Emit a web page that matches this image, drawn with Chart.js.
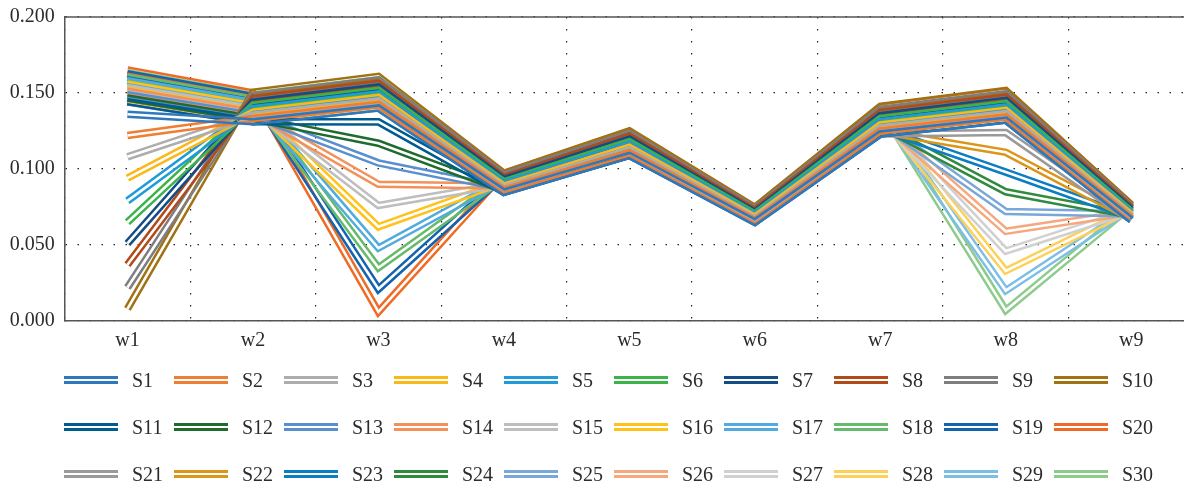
<!DOCTYPE html>
<html>
<head>
<meta charset="utf-8">
<script src="https://cdn.jsdelivr.net/npm/chart.js@4.4.1/dist/chart.umd.min.js"></script>
<style>
  html, body { margin: 0; padding: 0; background: #fff; width: 1184px; height: 486px; overflow: hidden; }
  #wrap { position: absolute; left: 0; top: 0; width: 1200px; height: 361px; }
  #legend { position: absolute; left: 0; top: 0; width: 1184px; height: 486px; }
  .item { position: absolute; display: flex; align-items: center; height: 20px; line-height: 20px;
          font: 20px "Liberation Serif", "DejaVu Serif", serif; color: #2b2b2b; white-space: nowrap; }
  .swatch { width: 54px; height: 2px; border-top: 3px solid; border-bottom: 3px solid; margin-right: 14px; }
</style>
</head>
<body>
<div id="wrap"><canvas id="chart" width="1200" height="361"></canvas></div>
<div id="legend"></div>
<script>
const categories = ["w1", "w2", "w3", "w4", "w5", "w6", "w7", "w8", "w9"];
const yTicks = [0, 0.05, 0.1, 0.15, 0.2];

// S1-S10: w1 lowered step by step
const S1 = [0.136, 0.1311, 0.1401, 0.0847, 0.1089, 0.0650, 0.1230, 0.1321, 0.0665];
const S2 = [0.122, 0.1332, 0.1424, 0.0861, 0.1106, 0.0661, 0.1250, 0.1342, 0.0676];
const S3 = [0.108, 0.1353, 0.1447, 0.0874, 0.1124, 0.0671, 0.1270, 0.1363, 0.0687];
const S4 = [0.094, 0.1374, 0.1470, 0.0888, 0.1142, 0.0682, 0.1290, 0.1385, 0.0698];
const S5 = [0.079, 0.1397, 0.1494, 0.0903, 0.1161, 0.0693, 0.1311, 0.1408, 0.0709];
const S6 = [0.065, 0.1418, 0.1516, 0.0916, 0.1178, 0.0704, 0.1331, 0.1429, 0.0720];
const S7 = [0.051, 0.1440, 0.1539, 0.0930, 0.1196, 0.0714, 0.1351, 0.1451, 0.0731];
const S8 = [0.037, 0.1461, 0.1562, 0.0944, 0.1214, 0.0725, 0.1371, 0.1472, 0.0742];
const S9 = [0.022, 0.1484, 0.1586, 0.0959, 0.1232, 0.0736, 0.1392, 0.1495, 0.0753];
const S10 = [0.008, 0.1505, 0.1609, 0.0972, 0.1250, 0.0747, 0.1412, 0.1516, 0.0764];
// S11-S20: w3
const S11 = [0.1443, 0.1312, 0.131, 0.0848, 0.1090, 0.0651, 0.1231, 0.1322, 0.0666];
const S12 = [0.1467, 0.1333, 0.117, 0.0862, 0.1108, 0.0662, 0.1251, 0.1344, 0.0677];
const S13 = [0.1488, 0.1353, 0.104, 0.0874, 0.1124, 0.0671, 0.1270, 0.1363, 0.0687];
const S14 = [0.1511, 0.1374, 0.090, 0.0888, 0.1141, 0.0682, 0.1289, 0.1385, 0.0698];
const S15 = [0.1535, 0.1395, 0.076, 0.0901, 0.1159, 0.0692, 0.1309, 0.1406, 0.0708];
const S16 = [0.1558, 0.1416, 0.062, 0.0915, 0.1177, 0.0703, 0.1329, 0.1427, 0.0719];
const S17 = [0.1581, 0.1437, 0.048, 0.0929, 0.1194, 0.0713, 0.1349, 0.1448, 0.0730];
const S18 = [0.1603, 0.1457, 0.035, 0.0941, 0.1210, 0.0723, 0.1367, 0.1468, 0.0740];
const S19 = [0.1626, 0.1478, 0.021, 0.0955, 0.1228, 0.0733, 0.1387, 0.1489, 0.0750];
const S20 = [0.1651, 0.1501, 0.006, 0.0970, 0.1247, 0.0745, 0.1408, 0.1512, 0.0762];
// S21-S30: w8
const S21 = [0.1442, 0.1311, 0.1401, 0.0847, 0.1089, 0.0650, 0.1230, 0.124, 0.0665];
const S22 = [0.1463, 0.1330, 0.1422, 0.0859, 0.1105, 0.0660, 0.1248, 0.111, 0.0675];
const S23 = [0.1484, 0.1349, 0.1443, 0.0872, 0.1121, 0.0670, 0.1266, 0.098, 0.0685];
const S24 = [0.1506, 0.1369, 0.1464, 0.0884, 0.1137, 0.0679, 0.1285, 0.085, 0.0695];
const S25 = [0.1527, 0.1388, 0.1484, 0.0897, 0.1153, 0.0689, 0.1303, 0.072, 0.0705];
const S26 = [0.1549, 0.1408, 0.1505, 0.0910, 0.1170, 0.0698, 0.1321, 0.059, 0.0715];
const S27 = [0.1570, 0.1427, 0.1526, 0.0922, 0.1186, 0.0708, 0.1339, 0.046, 0.0725];
const S28 = [0.1591, 0.1447, 0.1547, 0.0935, 0.1202, 0.0718, 0.1358, 0.033, 0.0734];
const S29 = [0.1613, 0.1466, 0.1568, 0.0947, 0.1218, 0.0727, 0.1376, 0.020, 0.0744];
const S30 = [0.1634, 0.1486, 0.1588, 0.0960, 0.1234, 0.0737, 0.1394, 0.007, 0.0754];

const seriesValues = [S1, S2, S3, S4, S5, S6, S7, S8, S9, S10,
  S11, S12, S13, S14, S15, S16, S17, S18, S19, S20,
  S21, S22, S23, S24, S25, S26, S27, S28, S29, S30];
const seriesNames = seriesValues.map((_, i) => "S" + (i + 1));
const seriesColors = [
  "#2E78BE", "#F07D32", "#ADADAD", "#FBB81B", "#1F9BD7", "#3CB34A", "#144C86", "#B24A1A", "#7E7E80", "#A07214",
  "#005B8E", "#1E6B2D", "#5A8FCE", "#F39159", "#BEBEBE", "#FFC21A", "#52ABDE", "#66BA6B", "#1463AE", "#EF6B25",
  "#9A9A9C", "#DB9619", "#0A7DC3", "#2F8A3E", "#79A8D8", "#F5A77D", "#D0D0D0", "#FDD05A", "#7DBEE5", "#8DCB8C",
];

const FONT = "'Liberation Serif', 'DejaVu Serif', serif";
const LINE_OUTER = 7.6;
const LINE_GAP = 2.6;

// each series is drawn as a double line: a wide stroke with its middle cut out
let offCanvas = null;
const doubleLine = {
  id: "doubleLine",
  beforeDatasetDraw(chart, args) {
    const pts = args.meta.data;
    if (!pts || !pts.length) return;
    const cv = chart.canvas;
    if (offCanvas == null) offCanvas = document.createElement("canvas");
    if (offCanvas.width != cv.width || offCanvas.height != cv.height) {
      offCanvas.width = cv.width;
      offCanvas.height = cv.height;
    }
    const c = offCanvas.getContext("2d");
    c.setTransform(1, 0, 0, 1, 0, 0);
    c.clearRect(0, 0, offCanvas.width, offCanvas.height);
    const r = chart.currentDevicePixelRatio;
    c.setTransform(r, 0, 0, r, 0, 0);
    c.beginPath();
    pts.forEach((p, i) => (i ? c.lineTo(p.x, p.y) : c.moveTo(p.x, p.y)));
    c.lineJoin = "miter";
    c.lineCap = "butt";
    c.globalCompositeOperation = "source-over";
    c.strokeStyle = chart.data.datasets[args.index].borderColor;
    c.lineWidth = LINE_OUTER;
    c.stroke();
    c.globalCompositeOperation = "destination-out";
    c.lineWidth = LINE_GAP;
    c.stroke();
    c.globalCompositeOperation = "source-over";
    const ctx = chart.ctx;
    ctx.save();
    ctx.setTransform(1, 0, 0, 1, 0, 0);
    ctx.drawImage(offCanvas, 0, 0);
    ctx.restore();
    return false;
  },
};

const topFrame = {
  id: "topFrame",
  afterDatasetsDraw(chart) {
    const a = chart.chartArea;
    const ctx = chart.ctx;
    ctx.save();
    ctx.strokeStyle = "#555";
    ctx.lineWidth = 1.5;
    ctx.beginPath();
    ctx.moveTo(a.left, a.top);
    ctx.lineTo(a.right, a.top);
    ctx.stroke();
    ctx.restore();
  },
};

const htmlLegend = {
  id: "htmlLegend",
  afterUpdate(chart) {
    const box = document.getElementById("legend");
    box.innerHTML = "";
    chart.data.datasets.forEach((ds, i) => {
      const it = document.createElement("div");
      it.className = "item";
      it.style.left = (64 + (i % 10) * 110) + "px";
      it.style.top = (380 + Math.floor(i / 10) * 47 - 10) + "px";
      const sw = document.createElement("span");
      sw.className = "swatch";
      sw.style.borderColor = ds.borderColor;
      const tx = document.createElement("span");
      tx.textContent = ds.label;
      it.appendChild(sw);
      it.appendChild(tx);
      box.appendChild(it);
    });
  },
};

const datasets = seriesValues.map((vals, i) => ({
  label: seriesNames[i],
  data: vals,
  borderColor: seriesColors[i],
  backgroundColor: seriesColors[i],
  borderWidth: 2,
  pointRadius: 0,
  fill: false,
}));

new Chart(document.getElementById("chart"), {
  type: "line",
  data: { labels: categories, datasets: datasets },
  plugins: [doubleLine, topFrame, htmlLegend],
  options: {
    responsive: false,
    animation: false,
    layout: { padding: { top: 17, right: 6, bottom: 0, left: 0 } },
    plugins: {
      legend: { display: false },
      tooltip: { enabled: false },
    },
    scales: {
      x: {
        offset: true,
        grid: { offset: true, color: "#222", lineWidth: 1.2, drawTicks: false },
        border: { display: true, color: "#555", width: 1.5, dash: [1.5, 10.5] },
        ticks: { color: "#2b2b2b", padding: 8, font: { family: FONT, size: 20 } },
      },
      y: {
        min: 0,
        max: 0.2,
        afterBuildTicks: (s) => { s.ticks = yTicks.map((v) => ({ value: v })); },
        afterFit: (s) => { s.width = 64.7; s.paddingTop = 0; s.paddingBottom = 0; },
        grid: { color: "#222", lineWidth: 1.2, drawTicks: false },
        border: { display: true, color: "#555", width: 1.5, dash: [1.5, 10.5] },
        ticks: {
          color: "#2b2b2b",
          padding: 10,
          font: { family: FONT, size: 20 },
          callback: (v) => Number(v).toFixed(3),
        },
      },
    },
  },
});
</script>
</body>
</html>
